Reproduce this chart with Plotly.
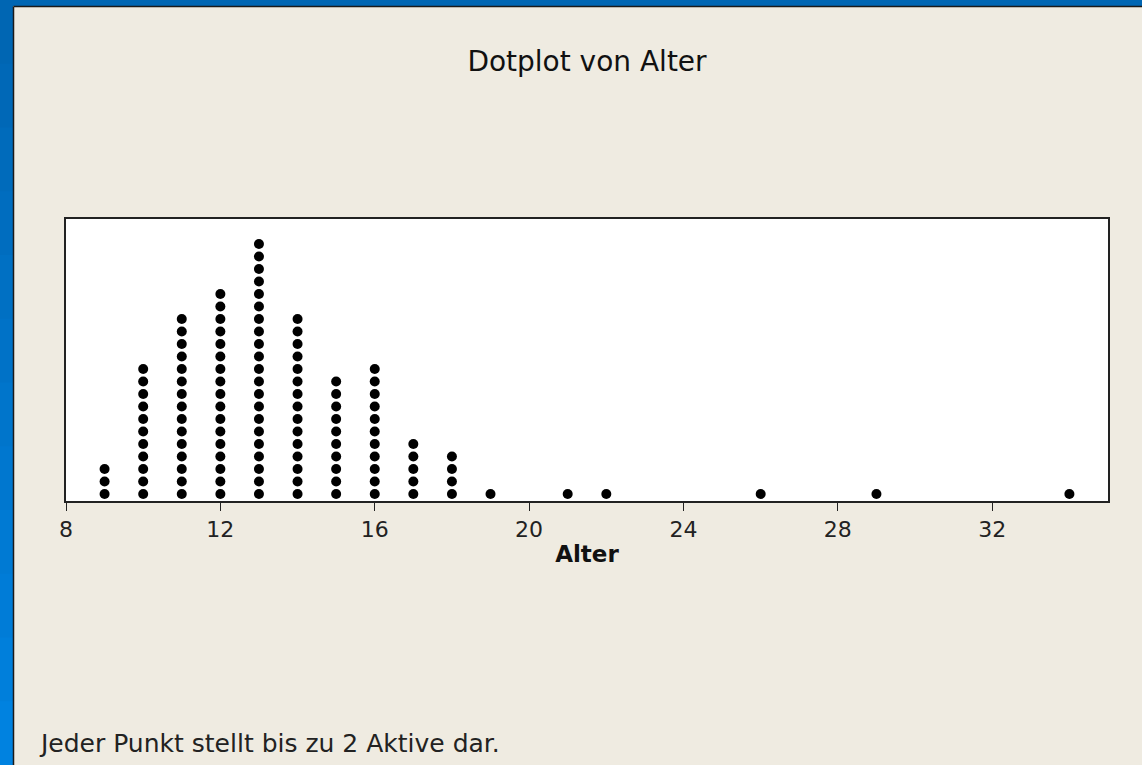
import plotly.graph_objects as go

# ---- data ----
ages = [9, 10, 11, 12, 13, 14, 15, 16, 17, 18, 19, 21, 22, 26, 29, 34]
dot_counts = [3, 11, 15, 17, 21, 15, 10, 11, 5, 4, 1, 1, 1, 1, 1, 1]
tick_vals = [8, 12, 16, 20, 24, 28, 32]
tick_text = ["8", "12", "16", "20", "24", "28", "32"]
title_text = "Dotplot von Alter"
x_title = "Alter"
footnote = "Jeder Punkt stellt bis zu 2 Aktive dar."

# ---- layout geometry (pixels) ----
W, H = 1142, 765
L, R, T, B = 66, 1108, 219, 501
PW, PH = R - L, B - T

def px(x):
    return (x - L) / PW

def py(y):
    return (B - y) / PH

BEIGE = "#EFEBE1"
FONT = "DejaVu Sans"

xs, ys = [], []
for a, c in zip(ages, dot_counts):
    for i in range(c):
        xs.append(a)
        ys.append(i)

fig = go.Figure()
fig.add_trace(go.Scatter(
    x=xs, y=ys, mode="markers",
    marker=dict(size=10, color="black", line=dict(width=0)),
    hoverinfo="x", showlegend=False,
))

shapes = []
# blue window frame: top strip and left strip (gradient approximated by bands)
shapes.append(dict(type="rect", xref="paper", yref="paper",
                   x0=px(0), x1=px(W), y0=py(6), y1=py(0),
                   fillcolor="#0066B3", line=dict(width=0), layer="above"))
n = 12
top_c = (0x00, 0x66, 0xB3)
bot_c = (0x00, 0x82, 0xE0)
for k in range(n):
    f = k / (n - 1)
    col = "rgb(%d,%d,%d)" % tuple(int(top_c[j] + (bot_c[j] - top_c[j]) * f) for j in range(3))
    y0 = k * H / n
    y1 = (k + 1) * H / n
    shapes.append(dict(type="rect", xref="paper", yref="paper",
                       x0=px(0), x1=px(13), y0=py(y1 + 1), y1=py(y0),
                       fillcolor=col, line=dict(width=0), layer="above"))
# dark border of the beige panel
shapes.append(dict(type="line", xref="paper", yref="paper",
                   x0=px(13.5), x1=px(W), y0=py(6.5), y1=py(6.5),
                   line=dict(color="#1a1a1a", width=1.5), layer="above"))
shapes.append(dict(type="line", xref="paper", yref="paper",
                   x0=px(13.5), x1=px(13.5), y0=py(6.5), y1=py(H),
                   line=dict(color="#1a1a1a", width=1.5), layer="above"))

fig.update_layout(
    width=W, height=H,
    margin=dict(l=L, r=W - R, t=T, b=H - B, pad=0),
    paper_bgcolor=BEIGE, plot_bgcolor="white",
    font=dict(family=FONT, color="#111"),
    title=dict(text=title_text, x=px(587), xref="paper", xanchor="center",
               y=1 - 61 / H, yanchor="middle",
               font=dict(family=FONT, size=28, color="#111")),
    xaxis=dict(range=[8, 35], tickmode="array", tickvals=tick_vals, ticktext=tick_text,
               showgrid=False, zeroline=False, showline=True, mirror=True,
               linecolor="#222", linewidth=2,
               ticks="outside", ticklen=8, tickwidth=1, tickcolor="#222",
               tickfont=dict(family=FONT, size=22, color="#222"),
               title=dict(text="<b>" + x_title + "</b>", standoff=4,
                          font=dict(family=FONT, size=23, color="#111"))),
    yaxis=dict(range=[-0.56, 22], showgrid=False, zeroline=False, showline=True,
               mirror=True, linecolor="#222", linewidth=2, showticklabels=False,
               ticks=""),
    shapes=shapes,
    annotations=[dict(text=footnote, xref="paper", yref="paper",
                      x=px(37), y=py(743), xanchor="left", yanchor="middle",
                      showarrow=False, font=dict(family=FONT, size=25, color="#222"))],
)

fig.write_html("out.html",
               config={"displayModeBar": False},
               post_script="document.body.style.margin='0';document.body.style.overflow='hidden';")
